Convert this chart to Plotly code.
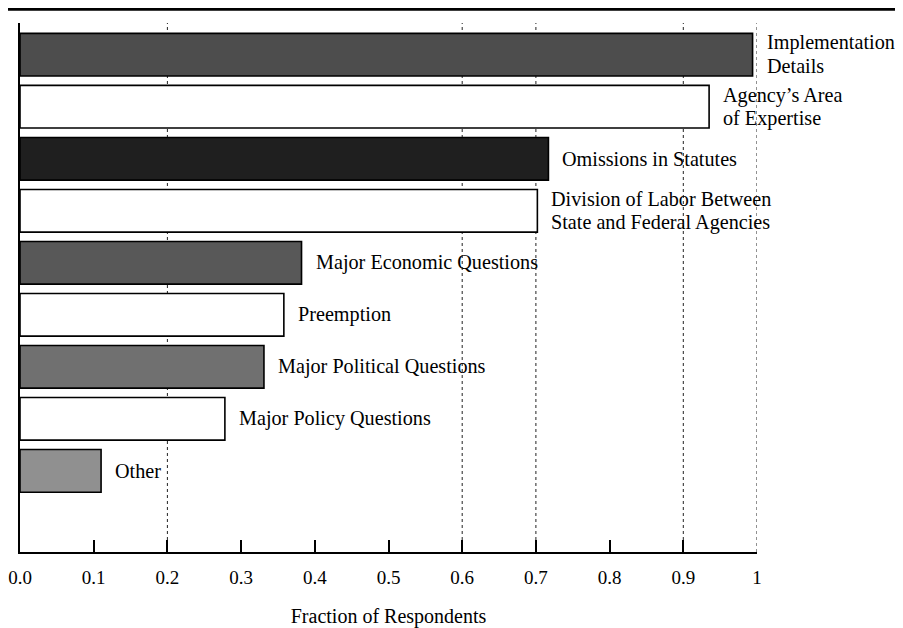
import plotly.graph_objects as go

categories = [
    "Implementation<br>Details",
    "Agency\u2019s Area<br>of Expertise",
    "Omissions in Statutes",
    "Division of Labor Between<br>State and Federal Agencies",
    "Major Economic Questions",
    "Preemption",
    "Major Political Questions",
    "Major Policy Questions",
    "Other",
]
fractions = [0.994, 0.935, 0.717, 0.702, 0.382, 0.358, 0.331, 0.278, 0.110]
bar_colors = ["#4d4d4d", "#ffffff", "#1f1f1f", "#ffffff", "#585858",
              "#ffffff", "#707070", "#ffffff", "#909090"]
tick_vals = [0.0, 0.1, 0.2, 0.3, 0.4, 0.5, 0.6, 0.7, 0.8, 0.9, 1.0]
tick_text = ["0.0", "0.1", "0.2", "0.3", "0.4", "0.5", "0.6", "0.7", "0.8", "0.9", "1"]
grid_x = [0.2, 0.6, 0.7, 0.9, 1.0]

FONT = "Liberation Serif, Times New Roman, serif"
ids = [str(i) for i in range(len(categories))]

fig = go.Figure()
fig.add_trace(go.Bar(
    x=fractions, y=ids, orientation="h",
    marker=dict(color=bar_colors, line=dict(color="black", width=1.6)),
    width=0.82, hoverinfo="x",
))

annotations = []
line_h = 23.5
for cid, val, lab in zip(ids, fractions, categories):
    lines = lab.split("<br>")
    n = len(lines)
    for k, ln in enumerate(lines):
        annotations.append(dict(
            x=val, y=cid, xref="x", yref="y", text=ln, showarrow=False,
            xanchor="left", yanchor="middle", xshift=12,
            yshift=((n - 1) / 2 - k) * line_h,
            font=dict(family=FONT, size=20.2, color="black"),
        ))

shapes = []
for gx in grid_x:
    shapes.append(dict(type="line", xref="x", yref="paper", x0=gx, x1=gx, y0=0, y1=1,
                       line=dict(color="#222222", width=1, dash="dot"), layer="below"))
# page rule at top of the scan
shapes.append(dict(type="line", xref="paper", yref="paper", x0=-0.03, x1=1.2, y0=1.026, y1=1.026,
                   line=dict(color="black", width=3)))

fig.update_layout(
    width=895, height=620,
    margin=dict(l=12, r=146, t=15, b=76),
    paper_bgcolor="white", plot_bgcolor="white",
    showlegend=False,
    font=dict(family=FONT, size=19, color="black"),
    annotations=annotations,
    shapes=shapes,
)
fig.update_xaxes(
    range=[0, 1], tickvals=tick_vals, ticktext=tick_text,
    showgrid=False, zeroline=False, automargin=False,
    showline=True, linecolor="black", linewidth=2,
    ticks="inside", ticklen=12, tickwidth=2, tickcolor="black",
    tickfont=dict(family=FONT, size=19), ticklabelstandoff=7,
    title=dict(text="Fraction of Respondents", font=dict(family=FONT, size=20), standoff=22),
)
fig.update_yaxes(
    type="category", categoryorder="array", categoryarray=ids,
    range=[9.56, -0.61], automargin=False,
    showticklabels=False, showgrid=False, zeroline=False,
    showline=True, linecolor="black", linewidth=2, ticks="",
)

fig.write_html("out.html")
